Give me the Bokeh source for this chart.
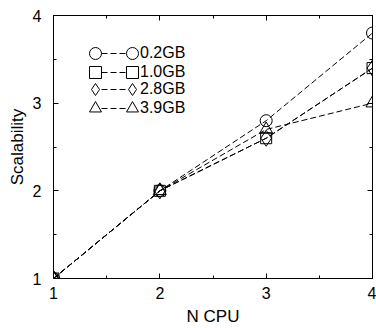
from bokeh.plotting import figure
from bokeh.models import (Range1d, LinearAxis, SingleIntervalTicker, Legend, LegendItem,
                          CustomLabelingPolicy)
from bokeh.embed import file_html
from bokeh.resources import INLINE

n_cpu = [1, 2, 3, 4]
series_names = ["0.2GB", "1.0GB", "2.8GB", "3.9GB"]
scal_02 = [1.0, 2.0, 2.8, 3.8]
scal_10 = [1.0, 2.0, 2.6, 3.4]
scal_28 = [1.0, 2.0, 2.6, 3.4]
scal_39 = [1.0, 2.0, 2.7, 3.0]
series_values = [scal_02, scal_10, scal_28, scal_39]
markers = ["circle", "square", "diamond", "triangle"]
marker_sizes = [12, 11, 16, 13]

FONT = "Liberation Sans"
W, H = 376, 328

p = figure(width=W, height=H, output_backend="svg", toolbar_location=None,
           x_range=Range1d(1, 4), y_range=Range1d(1, 4),
           x_axis_label="N CPU", y_axis_label="Scalability",
           min_border_left=53, min_border_top=15, min_border_right=3, min_border_bottom=47)
p.xgrid.visible = False
p.ygrid.visible = False
p.outline_line_color = "black"
p.outline_line_width = 1
p.background_fill_color = "white"
p.border_fill_color = "white"

def style_axis(ax, show_labels=True):
    ax.ticker = SingleIntervalTicker(interval=1, num_minor_ticks=2)
    ax.axis_line_color = "black"
    ax.major_tick_line_color = "black"
    ax.minor_tick_line_color = "black"
    ax.major_tick_in = 5
    ax.major_tick_out = 0
    ax.minor_tick_in = 3
    ax.minor_tick_out = 0
    ax.major_label_text_font = FONT
    ax.axis_label_text_font = FONT
    ax.axis_label_text_font_style = "normal"
    ax.axis_label_text_font_size = "17px"
    ax.axis_label_text_color = "black"
    ax.major_label_text_font_size = "16px"
    ax.major_label_text_color = "black"
    if not show_labels:
        ax.major_label_text_font_size = "1px"
        ax.major_label_standoff = 0
        ax.major_label_policy = CustomLabelingPolicy(
            code="for (const i of indices) { indices.unset(i) }\nreturn indices")

style_axis(p.xaxis[0])
style_axis(p.yaxis[0])
p.xaxis[0].major_label_standoff = 8
p.xaxis[0].axis_label_standoff = 5
p.yaxis[0].major_label_standoff = 12
p.yaxis[0].axis_label_standoff = 3

top_ax = LinearAxis()
style_axis(top_ax, show_labels=False)
p.add_layout(top_ax, "above")
right_ax = LinearAxis()
style_axis(right_ax, show_labels=False)
p.add_layout(right_ax, "right")

frame_h = H - 15 - 50
# legend layout (screen px, relative to frame): row centres, marker centres
row_centres = [38, 57, 74, 93]
m1_x, m2_x = 42, 79
line_x0, line_w = 48, 25
GB = 30  # marker glyph box -> marker size 0.4*GB

for name, vals, mk, ms, cy in zip(series_names, series_values, markers, marker_sizes, row_centres):
    lr = p.line(n_cpu, vals, line_color="black", line_width=1, line_dash="6 3")
    sr = p.scatter(n_cpu, vals, marker=mk, size=ms, line_color="black",
                   fill_color=None, line_width=1)
    lg_line = Legend(items=[LegendItem(label=name, renderers=[lr])],
                     location=(line_x0, frame_h - cy - 11),
                     glyph_width=line_w, glyph_height=22, label_height=22, spacing=0,
                     padding=0, margin=0, border_line_color=None, background_fill_alpha=0,
                     label_text_font=FONT, label_text_font_size="16px",
                     label_text_color="black", label_standoff=14)
    p.add_layout(lg_line)
    for mx in (m1_x, m2_x):
        lg_m = Legend(items=[LegendItem(label=" ", renderers=[sr])],
                      location=(mx - GB // 2, frame_h - cy - GB // 2),
                      glyph_width=GB, glyph_height=GB, label_height=GB, spacing=0,
                      padding=0, margin=0, border_line_color=None, background_fill_alpha=0,
                      label_text_font=FONT, label_text_font_size="8px",
                      label_standoff=0)
        p.add_layout(lg_m)

open("out.html", "w").write(file_html(p, INLINE))
